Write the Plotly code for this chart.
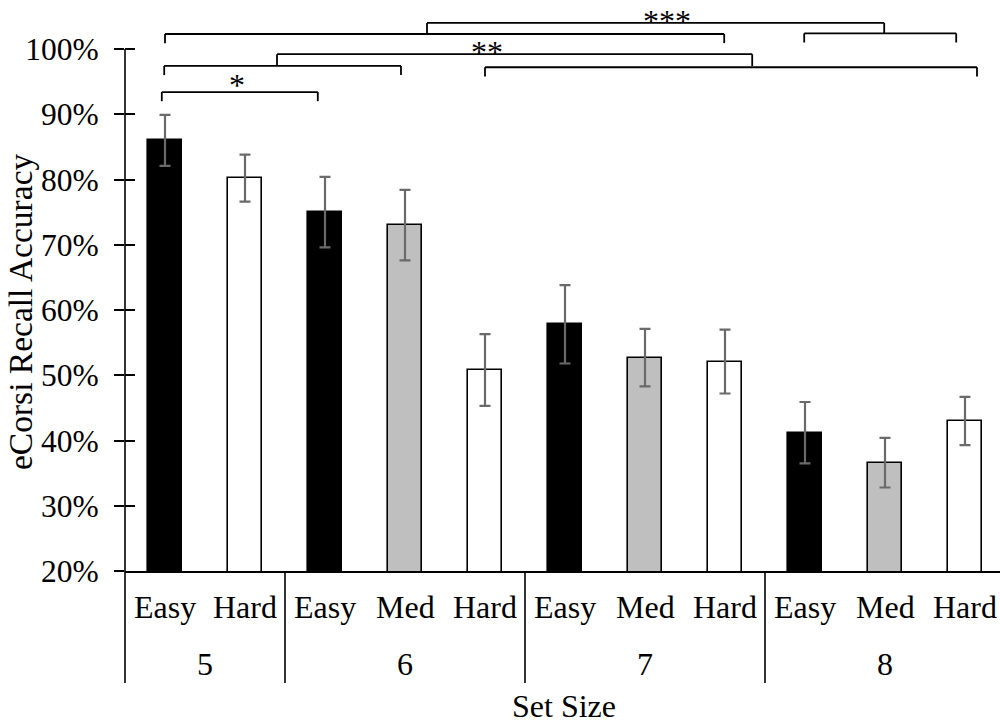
import plotly.graph_objects as go

# ---- data ----
set_size = ["5", "5", "6", "6", "6", "7", "7", "7", "8", "8", "8"]
difficulty = ["Easy", "Hard", "Easy", "Med", "Hard", "Easy", "Med", "Hard", "Easy", "Med", "Hard"]
accuracy = [86.0, 80.2, 75.0, 73.0, 50.8, 57.8, 52.7, 52.1, 41.2, 36.6, 43.0]
error = [3.9, 3.6, 5.4, 5.4, 5.5, 6.0, 4.4, 4.9, 4.7, 3.8, 3.7]
groups = ["5", "6", "7", "8"]
y_ticks = [20, 30, 40, 50, 60, 70, 80, 90, 100]

# significance brackets: (start index, end index, level)
brackets = [(-0.04, 1.91, 93.4), (-0.01, 2.95, 97.4), (4.0, 10.15, 97.2),
            (0.0, 6.99, 102.3), (7.99, 9.89, 102.4)]
connectors = [(1.4, 7.34, 99.2, 97.4), (3.275, 8.99, 104.0, 102.4)]
stars = [("*", 0.9, 93.4), ("**", 4.02, 99.2), ("***", 6.27, 104.0)]
star_shift = [-13, -18, -18]

FONT = "Liberation Serif, Times New Roman, serif"
FS = 32
fill = {"Easy": "#000000", "Med": "#bfbfbf", "Hard": "#ffffff"}

W, H = 1000, 723
L, B = 125, 152
plot_h = H - B  # 571
x_idx = list(range(len(accuracy)))
x_range = [-0.5, -0.5 + (W - L) / 80.0]
y_range = [20, 20 + plot_h / 6.525]

fig = go.Figure()
fig.add_trace(go.Bar(
    x=x_idx, y=accuracy, width=0.425,
    marker=dict(color=[fill[d] for d in difficulty], line=dict(color="#000000", width=1.6)),
    error_y=dict(type="data", array=error, visible=True, color="#6a6a6a", thickness=2.2, width=5.5),
    showlegend=False, hoverinfo="skip",
))
fig.add_trace(go.Scatter(x=[], y=[], yaxis="y2", showlegend=False))

shapes = []
def line(x0, y0, x1, y1, xref="x", yref="y", w=1.8):
    shapes.append(dict(type="line", x0=x0, y0=y0, x1=x1, y1=y1, xref=xref, yref=yref,
                       line=dict(color="#000000", width=w)))

drop = 1.4
for a, b, lv in brackets:
    line(a, lv - drop, a, lv)
    line(a, lv, b, lv)
    line(b, lv, b, lv - drop)
for a, b, lv, low in connectors:
    line(a, low, a, lv)
    line(a, lv, b, lv)
    line(b, lv, b, low)

# y-axis line (20%..100%)
line(0, y_ticks[0], 0, y_ticks[-1], xref="paper", yref="y", w=1.6)
# left edge extension and group separators below the axis
sep_bottom = -(683 - plot_h) / plot_h
line(0, 0, 0, sep_bottom, xref="paper", yref="paper", w=1.6)
for s in [1.5, 4.5, 7.5]:
    line(s, 0, s, sep_bottom, xref="x", yref="paper", w=1.6)

annotations = []
for i, d in enumerate(difficulty):
    annotations.append(dict(x=i, y=-(607 - plot_h) / plot_h, xref="x", yref="paper", text=d,
                            showarrow=False, xanchor="center", yanchor="middle",
                            font=dict(family=FONT, size=FS, color="#000000")))
for g in groups:
    idx = [i for i, s in enumerate(set_size) if s == g]
    annotations.append(dict(x=sum(idx) / len(idx), y=-(664 - plot_h) / plot_h, xref="x", yref="paper",
                            text=g, showarrow=False, xanchor="center", yanchor="middle",
                            font=dict(family=FONT, size=FS, color="#000000")))
annotations.append(dict(x=(564 - L) / (W - L), y=-(706 - plot_h) / plot_h, xref="paper", yref="paper",
                        text="Set Size", showarrow=False, xanchor="center", yanchor="middle",
                        font=dict(family=FONT, size=FS, color="#000000")))
annotations.append(dict(x=(21 - L) / (W - L), y=(plot_h - 312) / plot_h, xref="paper", yref="paper",
                        text="eCorsi Recall Accuracy", textangle=-90, showarrow=False,
                        xanchor="center", yanchor="middle",
                        font=dict(family=FONT, size=33.5, color="#000000")))
for (txt, xi, lv), ys in zip(stars, star_shift):
    annotations.append(dict(x=xi, y=lv, xref="x", yref="y", text=txt, showarrow=False,
                            xanchor="center", yanchor="bottom", yshift=ys,
                            font=dict(family=FONT, size=FS, color="#000000")))

fig.update_layout(
    width=W, height=H,
    margin=dict(l=L, r=0, t=0, b=B),
    paper_bgcolor="#ffffff", plot_bgcolor="#ffffff",
    font=dict(family=FONT, size=FS, color="#000000"),
    bargap=0,
    xaxis=dict(range=x_range, showgrid=False, zeroline=False, showticklabels=False,
               showline=True, linecolor="#000000", linewidth=1.6, ticks=""),
    yaxis=dict(range=y_range, tickvals=y_ticks, ticktext=[f"{v}%" for v in y_ticks],
               showgrid=False, zeroline=False, showline=False, ticks="outside", ticklen=10,
               tickwidth=1.6, tickcolor="#000000", ticklabelstandoff=9,
               tickfont=dict(family=FONT, size=31.5, color="#000000")),
    yaxis2=dict(range=y_range, overlaying="y", side="left", anchor="x", tickvals=y_ticks,
                showticklabels=False, showgrid=False, zeroline=False, showline=False,
                ticks="inside", ticklen=10, tickwidth=1.6, tickcolor="#000000"),
    shapes=shapes, annotations=annotations,
)
fig.write_html("out.html")
